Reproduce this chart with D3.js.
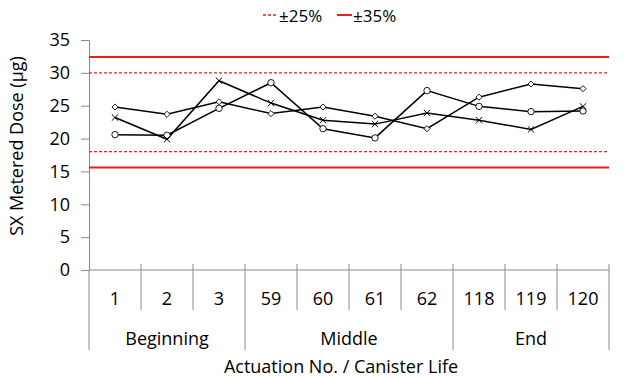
<!DOCTYPE html>
<html><head><meta charset="utf-8">
<script src="https://cdn.jsdelivr.net/npm/d3@7"></script>
<style>body{margin:0;background:#fff}svg{font-family:"Open Sans",sans-serif}</style>
</head><body><svg id="c" width="629" height="379"></svg>
<script>
const categories = ["1","2","3","59","60","61","62","118","119","120"];
const groups = [{name:"Beginning",start:0,end:3},{name:"Middle",start:3,end:7},{name:"End",start:7,end:10}];
const seriesDiamond = [24.8,23.7,25.6,23.8,24.8,23.4,21.5,26.3,28.3,27.6];
const seriesCircle  = [20.6,20.5,24.6,28.5,21.5,20.1,27.3,24.9,24.1,24.2];
const seriesCross   = [23.2,19.9,28.8,25.4,22.8,22.2,23.9,22.8,21.4,24.9];
const limits25 = [18,30];
const limits35 = [15.6,32.4];
const yTicks = [0,5,10,15,20,25,30,35];

const svg = d3.select("#c");
const L=89,R=609,T=40,B=270;
const x = d3.scaleBand().domain(d3.range(categories.length)).range([L,R]);
const y = d3.scaleLinear().domain([0,35]).range([B,T]);
const axisCol="#898989", red="#ee1c1c";
const FS=18;

// y axis
const ya = svg.append("g").attr("transform",`translate(${L},0)`)
  .call(d3.axisLeft(y).tickValues(yTicks).tickSize(8).tickPadding(11));
ya.select(".domain").attr("stroke",axisCol);
ya.selectAll(".tick line").attr("stroke",axisCol);
ya.selectAll(".tick text").attr("font-size",FS).attr("fill","#000").attr("font-family","Open Sans");

// x axis line
svg.append("line").attr("x1",L).attr("x2",R).attr("y1",B).attr("y2",B).attr("stroke",axisCol);
// category dividers
for(let i=1;i<categories.length;i++){
  const isGroup = groups.some(g=>g.start===i);
  svg.append("line").attr("x1",x(i)).attr("x2",x(i)).attr("y1",B-6).attr("y2",isGroup?350:310).attr("stroke",axisCol);
}
svg.append("line").attr("x1",L).attr("x2",L).attr("y1",B).attr("y2",350).attr("stroke",axisCol);
svg.append("line").attr("x1",R).attr("x2",R).attr("y1",B-6).attr("y2",350).attr("stroke",axisCol);

svg.append("g").selectAll("text").data(categories).join("text")
  .attr("x",(d,i)=>x(i)+x.bandwidth()/2).attr("y",298).attr("text-anchor","middle")
  .attr("dominant-baseline","central").attr("font-size",FS).text(d=>d);
svg.append("g").selectAll("text").data(groups).join("text")
  .attr("x",g=>(x(g.start)+ (g.end<categories.length?x(g.end):R))/2).attr("y",338)
  .attr("text-anchor","middle").attr("dominant-baseline","central").attr("font-size",FS).text(g=>g.name);
svg.append("text").attr("x",(L+R)/2-8).attr("y",366).attr("text-anchor","middle")
  .attr("dominant-baseline","central").attr("font-size",FS).text("Actuation No. / Canister Life");
svg.append("text").attr("transform",`translate(16,146) rotate(-90)`).attr("text-anchor","middle")
  .attr("dominant-baseline","central").attr("font-size",FS).text("SX Metered Dose (µg)");

// limit lines
limits25.forEach(v=>svg.append("line").attr("x1",L).attr("x2",R).attr("y1",y(v)).attr("y2",y(v))
  .attr("stroke",red).attr("stroke-width",1.3).attr("stroke-dasharray","3,2"));
limits35.forEach(v=>svg.append("line").attr("x1",L).attr("x2",R).attr("y1",y(v)).attr("y2",y(v))
  .attr("stroke",red).attr("stroke-width",2));

// series
const cx = i=>x(i)+x.bandwidth()/2;
const line = d3.line().x((d,i)=>cx(i)).y(d=>y(d));
[seriesDiamond,seriesCircle,seriesCross].forEach(s=>{
  svg.append("path").datum(s).attr("d",line).attr("fill","none").attr("stroke","#000").attr("stroke-width",1.5);
});
svg.append("g").selectAll("path").data(seriesDiamond).join("path")
  .attr("d",d3.symbol(d3.symbolDiamond2,24)).attr("transform",(d,i)=>`translate(${cx(i)},${y(d)})`)
  .attr("fill","#fff").attr("stroke","#000").attr("stroke-width",0.9);
svg.append("g").selectAll("circle").data(seriesCircle).join("circle")
  .attr("cx",(d,i)=>cx(i)).attr("cy",d=>y(d)).attr("r",3.2)
  .attr("fill","#fff").attr("stroke","#000").attr("stroke-width",0.9);
svg.append("g").selectAll("path").data(seriesCross).join("path")
  .attr("d",d3.symbol(d3.symbolTimes,28)).attr("transform",(d,i)=>`translate(${cx(i)},${y(d)})`)
  .attr("fill","none").attr("stroke","#000").attr("stroke-width",1);

// legend
const lg = svg.append("g");
lg.append("line").attr("x1",263).attr("x2",278).attr("y1",15).attr("y2",15).attr("stroke",red).attr("stroke-width",1.3).attr("stroke-dasharray","3,2");
lg.append("text").attr("x",279).attr("y",15).attr("dominant-baseline","central").attr("font-size",17).text("±25%");
lg.append("line").attr("x1",337).attr("x2",352).attr("y1",15).attr("y2",15).attr("stroke",red).attr("stroke-width",2);
lg.append("text").attr("x",353).attr("y",15).attr("dominant-baseline","central").attr("font-size",17).text("±35%");
</script></body></html>
